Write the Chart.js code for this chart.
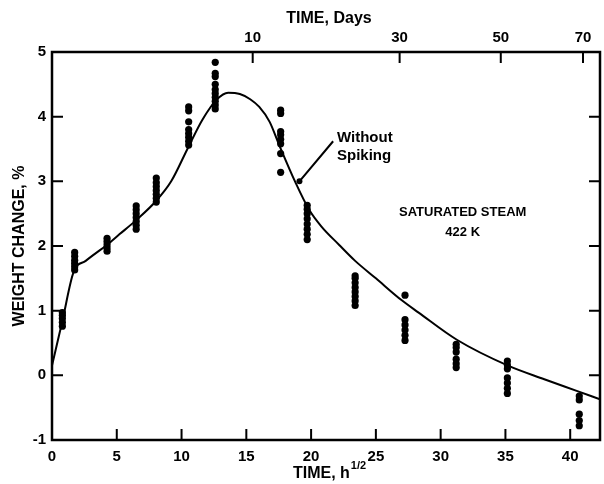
<!DOCTYPE html>
<html>
<head>
<meta charset="utf-8">
<script src="https://cdn.jsdelivr.net/npm/chart.js@4.4.1/dist/chart.umd.min.js"></script>
<style>
  html, body { margin: 0; padding: 0; background: #fff; }
</style>
</head>
<body>
<canvas id="graph" width="604" height="484"></canvas>
<script>
// graduations
var xTicks = [0, 5, 10, 15, 20, 25, 30, 35, 40];
var yTicks = [-1, 0, 1, 2, 3, 4, 5];
var topDays = [10, 30, 50, 70]; // axe du haut : jours -> racine des heures

// courbe lissée
var curveX = [0, 0.8, 1.67, 2.6, 4.25, 5.2, 6.5, 8.05, 9.2, 10.5, 11.6, 12.7, 13.6, 14.5, 15.3, 16, 16.8, 17.5, 18.8, 19.85, 20.8, 22.15, 23.4, 25, 27, 28.3, 31.25, 35.2, 38, 40.5, 42.3];
var curveY = [0.15, 0.84, 1.6, 1.77, 2.02, 2.18, 2.4, 2.7, 3.0, 3.52, 3.95, 4.26, 4.37, 4.35, 4.27, 4.15, 3.92, 3.58, 2.98, 2.56, 2.3, 2.02, 1.77, 1.5, 1.16, 0.97, 0.55, 0.15, -0.06, -0.24, -0.37];

// mesures
var clusterX = [0.8, 1.75, 4.25, 6.5, 8.05, 10.55, 12.6, 17.65, 19.7, 23.4, 27.25, 31.2, 35.15, 40.7];
var clusterY = [
  [0.76, 0.82, 0.88, 0.93, 0.97],
  [1.63, 1.68, 1.73, 1.78, 1.84, 1.9],
  [1.92, 1.97, 2.02, 2.07, 2.12],
  [2.26, 2.32, 2.38, 2.44, 2.5, 2.56, 2.62],
  [2.68, 2.74, 2.8, 2.86, 2.92, 2.98, 3.05],
  [3.56, 3.62, 3.68, 3.74, 3.8, 3.92, 4.09, 4.15],
  [4.12, 4.18, 4.24, 4.3, 4.36, 4.42, 4.5, 4.62, 4.67, 4.84],
  [3.14, 3.43, 3.58, 3.65, 3.72, 3.77, 4.05, 4.1],
  [2.1, 2.18, 2.26, 2.34, 2.42, 2.5, 2.57, 2.63],
  [1.08, 1.15, 1.22, 1.29, 1.36, 1.43, 1.5, 1.54],
  [0.54, 0.62, 0.7, 0.78, 0.86, 1.24],
  [0.12, 0.18, 0.25, 0.36, 0.43, 0.48],
  [-0.28, -0.2, -0.12, -0.04, 0.1, 0.16, 0.22],
  [-0.78, -0.7, -0.6, -0.38, -0.32]
];

// point "sans spiking"
var spikeX = [19.1];
var spikeY = [3.0];

var police = "'Liberation Sans', Arial, sans-serif";

var courbe = [];
for (var i = 0; i < curveX.length; i++) courbe.push({x: curveX[i], y: curveY[i]});
var points = [];
for (var j = 0; j < clusterX.length; j++) {
  clusterY[j].forEach(function(v) { points.push({x: clusterX[j], y: v}); });
}
var spike = [];
for (var k = 0; k < spikeX.length; k++) spike.push({x: spikeX[k], y: spikeY[k]});

var cadre = {
  id: 'cadre',
  afterDraw: function(chart) {
    var ctx = chart.ctx, a = chart.chartArea;
    var sx = chart.scales.x, sy = chart.scales.y;
    var lg = 11;
    ctx.save();
    ctx.strokeStyle = '#000';
    ctx.fillStyle = '#000';
    ctx.lineWidth = 2.5;
    ctx.strokeRect(a.left, a.top, a.right - a.left, a.bottom - a.top);

    ctx.lineWidth = 2;
    ctx.beginPath();
    xTicks.forEach(function(v) {
      if (v <= 0) return;
      var p = sx.getPixelForValue(v);
      ctx.moveTo(p, a.bottom); ctx.lineTo(p, a.bottom - lg);
    });
    topDays.forEach(function(d) {
      var p = sx.getPixelForValue(Math.sqrt(24 * d));
      ctx.moveTo(p, a.top); ctx.lineTo(p, a.top + lg);
    });
    yTicks.forEach(function(v) {
      if (v <= -1 || v >= 5) return;
      var p = sy.getPixelForValue(v);
      ctx.moveTo(a.left, p); ctx.lineTo(a.left + lg, p);
      ctx.moveTo(a.right, p); ctx.lineTo(a.right - lg, p);
    });
    // flèche vers le point sans spiking
    ctx.moveTo(sx.getPixelForValue(21.7), sy.getPixelForValue(3.62));
    ctx.lineTo(sx.getPixelForValue(spikeX[0]), sy.getPixelForValue(spikeY[0]));
    ctx.stroke();

    // titres
    ctx.textBaseline = 'middle';
    ctx.textAlign = 'center';
    ctx.font = 'bold 16px ' + police;
    var cx = (a.left + a.right) / 2 + 3;
    ctx.fillText('TIME, Days', cx, 19);

    var t1 = 'TIME, h', t2 = '1/2';
    var w1 = ctx.measureText(t1).width;
    ctx.font = 'bold 11px ' + police;
    var w2 = ctx.measureText(t2).width;
    var x0 = cx - (w1 + w2) / 2;
    ctx.textAlign = 'left';
    ctx.font = 'bold 16px ' + police;
    ctx.fillText(t1, x0, 474);
    ctx.font = 'bold 11px ' + police;
    ctx.fillText(t2, x0 + w1 + 1, 466);

    ctx.save();
    ctx.translate(20, (a.top + a.bottom) / 2);
    ctx.rotate(-Math.PI / 2);
    ctx.textAlign = 'center';
    ctx.font = 'bold 16px ' + police;
    ctx.fillText('WEIGHT CHANGE, %', 0, 0);
    ctx.restore();

    // annotations
    ctx.font = 'bold 15px ' + police;
    ctx.textAlign = 'left';
    ctx.fillText('Without', sx.getPixelForValue(22.0), sy.getPixelForValue(3.68));
    ctx.fillText('Spiking', sx.getPixelForValue(22.0), sy.getPixelForValue(3.39));
    ctx.font = 'bold 13px ' + police;
    ctx.textAlign = 'center';
    ctx.fillText('SATURATED STEAM', sx.getPixelForValue(31.7), sy.getPixelForValue(2.52));
    ctx.fillText('422 K', sx.getPixelForValue(31.7), sy.getPixelForValue(2.21));
    ctx.restore();
  }
};

var tickFont = { family: police, size: 15, weight: 'bold' };

new Chart(document.getElementById('graph'), {
  data: {
    datasets: [
      {
        type: 'line',
        data: courbe,
        borderColor: '#000',
        borderWidth: 2,
        pointRadius: 0,
        cubicInterpolationMode: 'monotone',
        fill: false
      },
      {
        type: 'scatter',
        data: points,
        backgroundColor: '#000',
        borderColor: '#000',
        pointRadius: 3.6,
        borderWidth: 0
      },
      {
        type: 'scatter',
        data: spike,
        backgroundColor: '#000',
        borderColor: '#000',
        pointRadius: 3,
        borderWidth: 0
      }
    ]
  },
  options: {
    responsive: false,
    animation: false,
    devicePixelRatio: 1,
    layout: { padding: { right: 2 } },
    plugins: { legend: { display: false }, tooltip: { enabled: false } },
    scales: {
      x: {
        type: 'linear',
        position: 'bottom',
        min: 0,
        max: 42.3,
        grid: { display: false, drawTicks: false },
        border: { display: false },
        afterBuildTicks: function(s) { s.ticks = xTicks.map(function(v) { return {value: v}; }); },
        afterFit: function(s) { s.height = 44; },
        ticks: { color: '#000', font: tickFont, padding: 8, maxRotation: 0 }
      },
      x2: {
        type: 'linear',
        position: 'top',
        min: 0,
        max: 42.3,
        grid: { display: false, drawTicks: false },
        border: { display: false },
        afterBuildTicks: function(s) { s.ticks = topDays.map(function(d) { return {value: Math.sqrt(24 * d)}; }); },
        afterFit: function(s) { s.height = 52; },
        ticks: {
          color: '#000', font: tickFont, padding: 5, maxRotation: 0,
          callback: function(v, i) { return topDays[i]; }
        }
      },
      y: {
        type: 'linear',
        min: -1,
        max: 5,
        grid: { display: false, drawTicks: false },
        border: { display: false },
        afterBuildTicks: function(s) { s.ticks = yTicks.map(function(v) { return {value: v}; }); },
        afterFit: function(s) { s.width = 52; },
        ticks: { color: '#000', font: tickFont, padding: 6 }
      }
    }
  },
  plugins: [cadre]
});
</script>
</body>
</html>
